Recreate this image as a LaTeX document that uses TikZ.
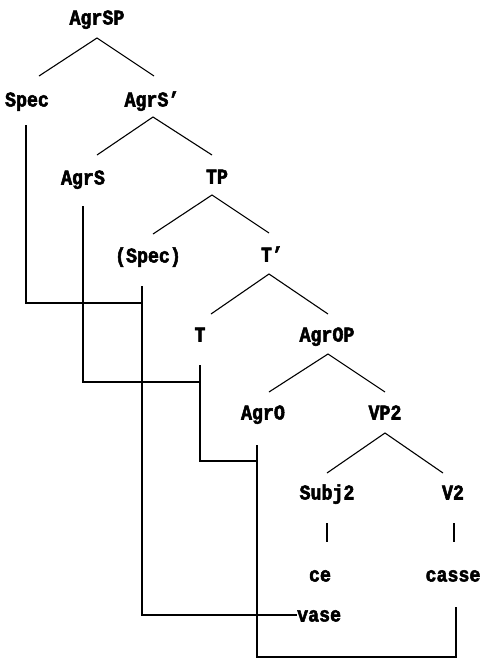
\documentclass[tikz,border=0pt]{standalone}
\usepackage{fontspec}
\newfontfamily\treefont[FakeStretch=0.87,FakeBold=2.5]{Liberation Mono Bold}
\begin{document}
\begin{tikzpicture}[x=1pt,y=-1pt,
  lbl/.style={inner sep=0pt,text height=13pt,text depth=0pt,font=\treefont\fontsize{21}{21}\selectfont},
  br/.style={line width=1.1pt},
  mv/.style={line width=1.4pt}]
\useasboundingbox (0,0) rectangle (483,662);
% labels
\node[lbl] (agrsp) at (97,18) {AgrSP};
\node[lbl] (spec) at (27,100) {Spec};
\node[lbl] (agrsb) at (152,100) {AgrS’};
\node[lbl] (agrs) at (83,178) {AgrS};
\node[lbl] (tp) at (217,177) {TP};
\node[lbl] (pspec) at (148,256) {(Spec)};
\node[lbl] (tb) at (272,255) {T’};
\node[lbl] (t) at (200,335) {T};
\node[lbl] (agrop) at (327,335) {AgrOP};
\node[lbl] (agro) at (263,413) {AgrO};
\node[lbl] (vp) at (385,413) {VP2};
\node[lbl] (subj) at (327,493) {Subj2};
\node[lbl] (v) at (453,493) {V2};
\node[lbl] (ce) at (320,575) {ce};
\node[lbl] (casse) at (453,575) {casse};
\node[lbl,anchor=west] (vase) at (297,615) {vase};
% branches
\draw[br] ([shift={(12,-24)}]spec.center) -- ([shift={(0,20)}]agrsp.center) -- ([shift={(2,-24)}]agrsb.center);
\draw[br] ([shift={(14,-23)}]agrs.center) -- ([shift={(1,17)}]agrsb.center) -- ([shift={(-5,-22)}]tp.center);
\draw[br] ([shift={(5,-22)}]pspec.center) -- ([shift={(-5,18)}]tp.center) -- ([shift={(-3,-22)}]tb.center);
\draw[br] ([shift={(11,-21)}]t.center) -- ([shift={(-3,19)}]tb.center) -- ([shift={(1,-21)}]agrop.center);
\draw[br] ([shift={(6,-21)}]agro.center) -- ([shift={(1,19)}]agrop.center) -- ([shift={(0,-21)}]vp.center);
\draw[br] ([shift={(0,-20)}]subj.center) -- ([shift={(0,20)}]vp.center) -- ([shift={(-10,-20)}]v.center);
\draw[mv] ([shift={(0,30)}]subj.center) -- ([shift={(7,-33)}]ce.center);
\draw[mv] ([shift={(1,30)}]v.center) -- ([shift={(1,-33)}]casse.center);
% movement lines
\draw[mv] ([shift={(-1,25)}]spec.center) |- ([shift={(-6,47)}]pspec.center);
\draw[mv] ([shift={(-6,30)}]pspec.center) |- (vase.west);
\draw[mv] ([shift={(0,28)}]agrs.center) |- ([shift={(0,47)}]t.center);
\draw[mv] ([shift={(0,30)}]t.center) |- ([shift={(-6,48)}]agro.center);
\draw[mv] ([shift={(-6,32)}]agro.center) -- ([shift={(-6,244)}]agro.center) -| ([shift={(3,32)}]casse.center);
\end{tikzpicture}
\end{document}
